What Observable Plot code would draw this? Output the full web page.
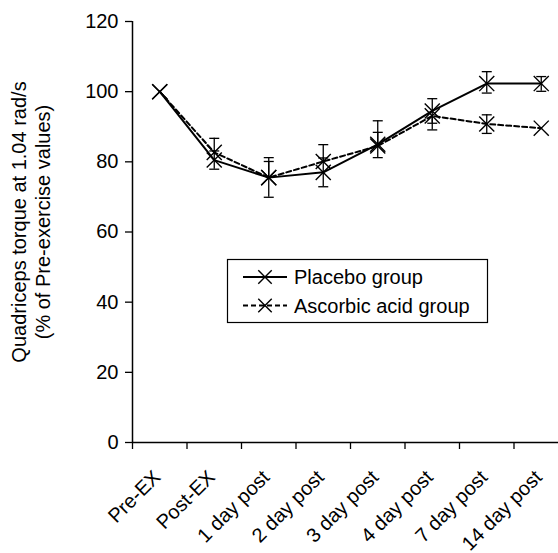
<!DOCTYPE html>
<html><head><meta charset="utf-8">
<script src="https://cdn.jsdelivr.net/npm/d3@7"></script>
<script src="https://cdn.jsdelivr.net/npm/@observablehq/plot@0.6"></script>
<style>
body{margin:0;background:#fff}
#chart{position:relative;width:558px;height:553px}
</style>
</head><body><div id="chart"></div>
<script>
const categories = ["Pre-EX","Post-EX","1 day post","2 day post","3 day post","4 day post","7 day post","14 day post"];
const yTicks = [0,20,40,60,80,100,120];
const seriesNames = ["Placebo group","Ascorbic acid group"];
const yTitle = ["Quadriceps torque at 1.04 rad/s","(% of Pre-exercise values)"];

const placebo   = [100, 80.5, 75.5, 77.0, 85.0, 94.5, 102.3, 102.3];
const placeboLo = [null, 77.9, 69.9, 72.9, 81.2, 91.0, 99.6, 100.1];
const placeboHi = [null, 83.1, 81.2, 81.1, 88.4, 98.0, 105.7, 104.3];

const ascorbic   = [100, 82.7, 75.5, 80.1, 84.5, 93.1, 90.8, 89.6];
const ascorbicLo = [null, null, null, null, null, 89.1, 88.1, null];
const ascorbicHi = [null, 86.7, 80.1, 84.9, 91.7, null, 93.4, null];

function build(vals, lo, hi, name) {
  return categories.map((c, i) => ({series: name, cat: c, x: i + 0.5, v: vals[i], lo: lo[i], hi: hi[i]}));
}
const pRows = build(placebo, placeboLo, placeboHi, seriesNames[0]);
const aRows = build(ascorbic, ascorbicLo, ascorbicHi, seriesNames[1]);
const all = pRows.concat(aRows);
const errRows = all.filter(d => d.lo != null || d.hi != null)
  .map(d => ({x: d.x, y1: d.lo != null ? d.lo : d.v, y2: d.hi != null ? d.hi : d.v}));
const caps = [];
all.forEach(d => { if (d.lo != null) caps.push({x: d.x, y: d.lo}); if (d.hi != null) caps.push({x: d.x, y: d.hi}); });

const capSymbol = {draw(ctx, size) { ctx.moveTo(-5, 0); ctx.lineTo(5, 0); }};
const font = "Liberation Sans, Arial, sans-serif";

const plot = Plot.plot({
  width: 558, height: 553,
  marginLeft: 132, marginRight: 0, marginTop: 21, marginBottom: 111,
  style: {fontFamily: font, fontSize: "20px", color: "#000", background: "#fff", overflow: "visible"},
  x: {type: "linear", domain: [0, categories.length], range: [132, 568]},
  y: {domain: [0, 120]},
  marks: [
    Plot.axisY({ticks: yTicks, tickSize: 7, tickPadding: 7, fontSize: 20, label: null, strokeWidth: 1.3}),
    Plot.axisX({ticks: d3.range(categories.length), tickSize: 7, tickFormat: () => "", label: null, strokeWidth: 1.3}),
    Plot.text(categories, {x: (d, i) => i + 0.5, frameAnchor: "bottom", dy: 36, dx: 2, rotate: -45, textAnchor: "end", fontSize: 20, fill: "#000"}),
    Plot.text([yTitle.join("\n")], {frameAnchor: "left", textAnchor: "middle", dx: -102, dy: -10, rotate: -90, lineHeight: 1.2, fontSize: 20, fill: "#000"}),
    Plot.ruleX([0], {stroke: "#000", strokeWidth: 1.5}),
    Plot.ruleY([0], {stroke: "#000", strokeWidth: 1.5}),
    Plot.ruleX(errRows, {x: "x", y1: "y1", y2: "y2", stroke: "#000", strokeWidth: 1.3}),
    Plot.dot(caps, {x: "x", y: "y", symbol: capSymbol, stroke: "#000", strokeWidth: 1.3}),
    Plot.line(pRows, {x: "x", y: "v", stroke: "#000", strokeWidth: 2}),
    Plot.line(aRows, {x: "x", y: "v", stroke: "#000", strokeWidth: 2, strokeDasharray: "5,3"}),
    Plot.dot(all, {x: "x", y: "v", symbol: "times", r: 6.9, stroke: "#000", strokeWidth: 1.4})
  ]
});
document.getElementById("chart").appendChild(plot);

// legend drawn inside the svg
const svg = d3.select(plot);
const lg = svg.append("g").attr("font-family", font).attr("font-size", 20).attr("text-anchor", "start");
lg.append("rect").attr("x", 227.5).attr("y", 259.5).attr("width", 260).attr("height", 63)
  .attr("fill", "#fff").attr("stroke", "#000").attr("stroke-width", 1.2);
seriesNames.forEach((name, k) => {
  const cy = 277 + k * 28.5;
  lg.append("line").attr("x1", 243).attr("x2", 287).attr("y1", cy).attr("y2", cy)
    .attr("stroke", "#000").attr("stroke-width", 2)
    .attr("stroke-dasharray", k === 1 ? "5,3" : null);
  lg.append("path").attr("d", d3.symbol(d3.symbolTimes, 120)())
    .attr("transform", `translate(265,${cy})`).attr("fill", "none").attr("stroke", "#000").attr("stroke-width", 1.4);
  lg.append("text").attr("x", 294).attr("y", cy).attr("dy", "0.35em").attr("text-anchor", "start").attr("fill", "#000").text(name);
});
</script>
</body></html>
